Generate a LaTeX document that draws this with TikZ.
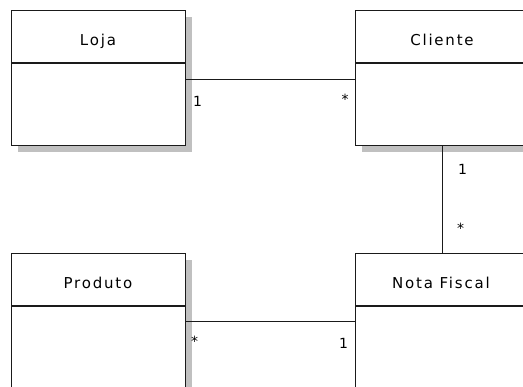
\documentclass[tikz,border=0pt]{standalone}
\usepackage{fontspec}
\usetikzlibrary{shadows}
\newfontfamily\titlefont{DejaVu Sans}[LetterSpace=12]
\newfontfamily\multfont{DejaVu Sans}
\definecolor{linecol}{HTML}{1A1A1A}
\definecolor{shadowcol}{HTML}{C0C0C0}
\tikzset{
  classbox/.style={draw=linecol, fill=white, line width=1.3pt, rectangle,
    minimum width=174pt, minimum height=135pt, anchor=north west, inner sep=0pt,
    drop shadow={shadow xshift=6pt, shadow yshift=-6pt, fill=shadowcol, opacity=1}},
  divider/.style={draw=linecol, line width=1.3pt},
  assoc/.style={draw=linecol, line width=1.3pt},
  classname/.style={font=\titlefont\fontsize{15}{15}\selectfont, anchor=base, inner sep=0pt},
  mult/.style={font=\multfont\fontsize{14}{14}\selectfont, anchor=base, inner sep=0pt}
}
\begin{document}
\begin{tikzpicture}[x=1pt, y=-1pt]
  \fill[white] (0,0) rectangle (523,387);
  \clip (0,0) rectangle (523,387);

  % class boxes
  \node[classbox] (loja)    at (11,10)   {};
  \node[classbox] (cliente) at (355,10)  {};
  \node[classbox] (produto) at (11,253)  {};
  \node[classbox] (nota)    at (355,253) {};

  % compartment dividers under each name
  \foreach \c in {loja, cliente, produto, nota}
    \draw[divider] ([yshift=-53pt]\c.north west) -- ([yshift=-53pt]\c.north east);

  % class names
  \node[classname] (tloja)    at (98,45.5)    {Loja};
  \node[classname] (tcliente) at (442,45.5)   {Cliente};
  \node[classname] (tproduto) at (98,288.5)   {Produto};
  \node[classname] (tnota)    at (441,288.5)  {Nota Fiscal};

  % associations
  \draw[assoc] ([yshift=-1.5pt]loja.east) -- ([yshift=-1.5pt]cliente.west);
  \draw[assoc] (cliente.south) -- (nota.north);
  \draw[assoc] ([yshift=-0.5pt]produto.east) -- ([yshift=-0.5pt]nota.west);

  % multiplicities
  \node[mult] (m1) at (197.5,107) {1};
  \node[mult] (m2) at (345,105)   {*};
  \node[mult] (m3) at (462.5,175) {1};
  \node[mult] (m4) at (460.5,234) {*};
  \node[mult] (m5) at (194.5,347) {*};
  \node[mult] (m6) at (343.5,349) {1};
\end{tikzpicture}
\end{document}
